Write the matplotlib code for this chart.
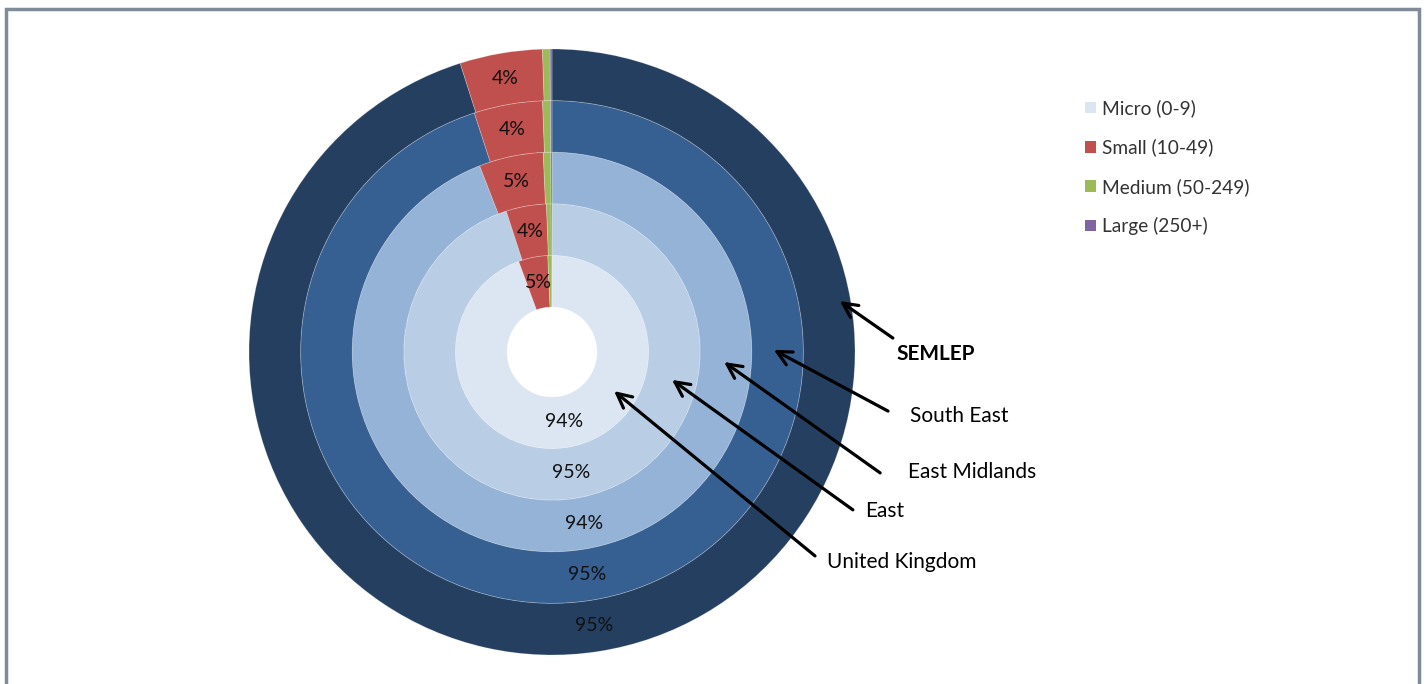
import matplotlib
matplotlib.use("Agg")
import matplotlib.pyplot as plt
from matplotlib.patches import Patch, Rectangle
import numpy as np

plt.rcParams['font.family'] = ['Lato', 'DejaVu Sans']

# ---- data ----
regions = ["United Kingdom", "East", "East Midlands", "South East", "SEMLEP"]  # inner -> outer
categories = ["Micro (0-9)", "Small (10-49)", "Medium (50-249)", "Large (250+)"]
micro = [94.4, 95.0, 94.1, 95.0, 95.1]
small = [4.9, 4.4, 5.2, 4.4, 4.4]
medium = [0.6, 0.5, 0.6, 0.5, 0.4]
large = [0.1, 0.1, 0.1, 0.1, 0.1]

# ---- style ----
micro_colors = ["#dce6f2", "#b9cde5", "#95b3d7", "#365f92", "#253f60"]
other_colors = ["#c0504d", "#9bbb59", "#8064a2"]
legend_colors = ["#dce6f2", "#c0504d", "#9bbb59", "#8064a2"]

W, H, DPI = 1427, 684, 100
fig = plt.figure(figsize=(W / DPI, H / DPI), dpi=DPI)

cx, cy, R = 552, 352, 303
ax = fig.add_axes([(cx - R) / W, (H - cy - R) / H, 2 * R / W, 2 * R / H])
ax.set_xlim(-1, 1)
ax.set_ylim(-1, 1)
ax.set_aspect('equal')
ax.axis('off')

hole = 45 / R
ring_w = (1 - hole) / len(regions)

for i, name in enumerate(regions):
    vals = [micro[i], small[i], medium[i], large[i]]
    cols = [micro_colors[i]] + other_colors
    r_out = hole + ring_w * (i + 1)
    wedges, _ = ax.pie(vals, radius=r_out, colors=cols, startangle=90,
                       counterclock=False,
                       wedgeprops=dict(width=ring_w, edgecolor=(1, 1, 1, 0.25),
                                       linewidth=0.6))
    r_mid = r_out - ring_w / 2
    total = sum(vals)
    start = 90.0
    for j, v in enumerate(vals[:2]):
        ang = start - (v / total) * 360 / 2
        start -= (v / total) * 360
        a = np.deg2rad(ang)
        ax.text(r_mid * np.cos(a), r_mid * np.sin(a), f"{round(v):d}%",
                ha='center', va='center', fontsize=14, color='#111111')

ax.set_xlim(-1, 1)
ax.set_ylim(-1, 1)

# ---- arrows & labels (in pie data units) ----
ann = [
    ("SEMLEP", (0.950, 0.168), (1.125, 0.046), (1.267, -0.007), 'bold'),
    ("South East", (0.732, 0.007), (1.109, -0.195), (1.343, -0.211), 'normal'),
    ("East Midlands", (0.568, -0.033), (1.083, -0.399), (1.386, -0.396), 'normal'),
    ("East", (0.396, -0.092), (0.993, -0.521), (1.099, -0.525), 'normal'),
    ("United Kingdom", (0.205, -0.129), (0.868, -0.673), (1.155, -0.693), 'normal'),
]
for label, head, tail, tpos, wt in ann:
    ax.annotate('', xy=head, xytext=tail,
                arrowprops=dict(arrowstyle='->', lw=2.3, color='black',
                                mutation_scale=26, shrinkA=0, shrinkB=0),
                annotation_clip=False)
    ax.text(tpos[0], tpos[1], label, ha='center', va='center', fontsize=15,
            fontweight=wt, color='black', clip_on=False)

# ---- legend ----
handles = [Patch(facecolor=c, edgecolor='none') for c in legend_colors]
fig.legend(handles, categories, loc='upper left',
           bbox_to_anchor=(1068 / W, 1 - 82 / H), frameon=False,
           fontsize=13.8, handlelength=0.55, handleheight=0.55,
           handletextpad=0.35, labelspacing=1.12, labelcolor='#333333')

# ---- frame ----
fig.patches.append(Rectangle((5.5 / W, -0.05), (1413.5) / W, 1 - 9 / H + 0.05,
                             transform=fig.transFigure, fill=False,
                             edgecolor='#7f8c97', linewidth=2.5))

fig.savefig("out.png", dpi=DPI)
